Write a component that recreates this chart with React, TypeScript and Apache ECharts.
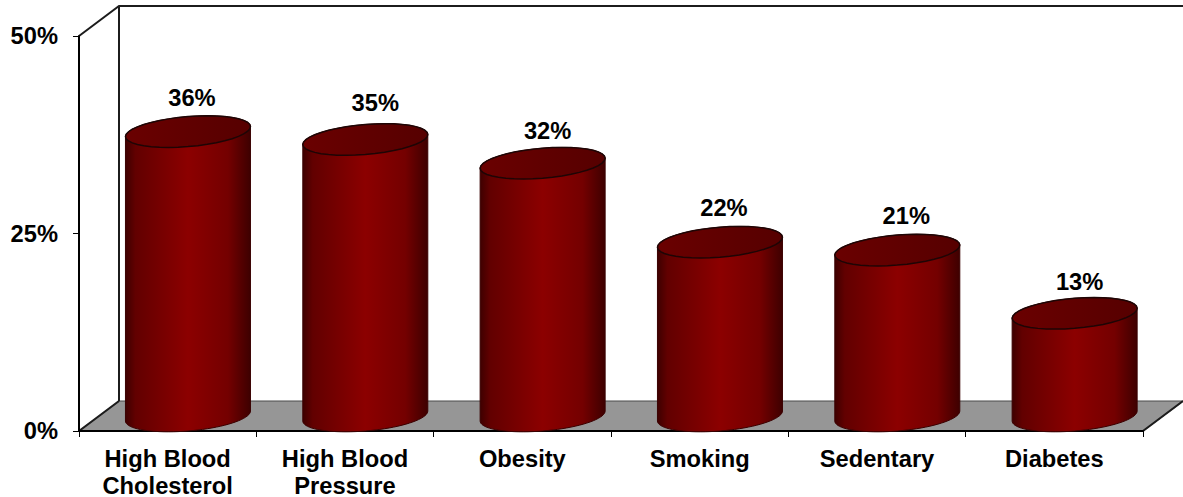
import React, { useEffect, useRef } from "react";
import * as echarts from "echarts";

const categories = ["High Blood\nCholesterol", "High Blood\nPressure", "Obesity", "Smoking", "Sedentary", "Diabetes"];
const shares = [36, 35, 32, 22, 21, 13];
const valueTicks = { min: 0, max: 50, interval: 25 };

const FONT = '"Liberation Sans", Arial, sans-serif';
const DEPTH_X = 40;
const DEPTH_Y = 30;
const RADIUS_X = 62.5;
const RADIUS_Y = 15;
const SHEAR = 5;
// Hand placement of the value labels relative to each cylinder's top.
const LABEL_NUDGE_X = [4, 10, 5, 4, 9, 5];
const LABEL_NUDGE_Y = [-34, -37, -32, -34, -34, -31];

// Half-turn of a sheared ellipse, from angle `from` to angle `to` in degrees.
function rim(cx: number, cy: number, from: number, to: number) {
  const pts: number[][] = [];
  const steps = 40;
  for (let i = 0; i <= steps; i++) {
    const t = ((from + ((to - from) * i) / steps) * Math.PI) / 180;
    pts.push([cx + RADIUS_X * Math.cos(t), cy - RADIUS_Y * Math.sin(t) - SHEAR * Math.cos(t)]);
  }
  return pts;
}

function renderShell(params: any) {
  const { x, y, width: w, height: h } = params.coordSys;
  const bx = x + DEPTH_X;
  const by = y - DEPTH_Y;
  const wall = { stroke: "#1c1c1c", lineWidth: 2, fill: "none" };
  return {
    type: "group",
    silent: true,
    children: [
      {
        type: "polygon",
        shape: { points: [[x, y + h], [bx, by + h], [bx + w, by + h], [x + w, y + h]] },
        style: { fill: "#969696", stroke: "#4a4a4a", lineWidth: 1.2 },
      },
      { type: "polyline", shape: { points: [[x, y], [bx, by], [bx + w, by]] }, style: wall },
      { type: "line", shape: { x1: bx, y1: by, x2: bx, y2: by + h }, style: wall },
      { type: "line", shape: { x1: x, y1: y + h, x2: bx, y2: by + h }, style: wall },
      { type: "line", shape: { x1: x + w, y1: y + h, x2: bx + w, y2: by + h }, style: wall },
    ],
  };
}

function renderCylinder(params: any, api: any) {
  const top = api.coord([api.value(0), api.value(1)]);
  const base = api.coord([api.value(0), 0]);
  const cx = top[0] + DEPTH_X / 2 + 0.3;
  const topY = top[1] - DEPTH_Y / 2;
  const baseY = base[1] - DEPTH_Y / 2;
  const body = [...rim(cx, topY, 0, 180), ...rim(cx, baseY, 180, 360)];
  const topRim = rim(cx, topY, 0, 360);
  const side = new echarts.graphic.LinearGradient(0, 0, 1, 0, [
    { offset: 0, color: "#3e0000" },
    { offset: 0.08, color: "#620000" },
    { offset: 0.5, color: "#8c0000" },
    { offset: 0.82, color: "#740000" },
    { offset: 1, color: "#3e0000" },
  ]);
  const lid = new echarts.graphic.LinearGradient(0, 0, 1, 0, [
    { offset: 0, color: "#6a0000" },
    { offset: 0.5, color: "#600000" },
    { offset: 1, color: "#560000" },
  ]);
  return {
    type: "group",
    children: [
      { type: "polygon", shape: { points: body }, style: { fill: side, stroke: "#3a0000", lineWidth: 1 } },
      { type: "polygon", shape: { points: topRim }, style: { fill: lid, stroke: "#1e0505", lineWidth: 1.5 } },
      {
        type: "text",
        style: {
          x: cx + LABEL_NUDGE_X[params.dataIndex],
          y: topY + LABEL_NUDGE_Y[params.dataIndex],
          text: `${api.value(1)}%`,
          font: `bold 23.7px ${FONT}`,
          fill: "#000",
          align: "center",
          verticalAlign: "middle",
        },
      },
    ],
  };
}

export default function App() {
  const ref = useRef<HTMLDivElement>(null);
  useEffect(() => {
    document.body.style.margin = "0";
    const chart = echarts.init(ref.current!, undefined, { renderer: "svg" });
    chart.setOption({
      animation: false,
      backgroundColor: "#fff",
      grid: { left: 79, right: 40, top: 36, bottom: 66, containLabel: false, outerBoundsMode: "none" },
      xAxis: {
        type: "category",
        data: categories,
        axisLine: { lineStyle: { color: "#000", width: 2 } },
        axisTick: { show: true, length: 6, lineStyle: { color: "#000", width: 1 } },
        axisLabel: { interval: 0, color: "#000", fontFamily: FONT, fontWeight: "bold", fontSize: 23.7, lineHeight: 27, margin: 14 },
      },
      yAxis: {
        type: "value",
        ...valueTicks,
        splitLine: { show: false },
        axisLine: { show: true, lineStyle: { color: "#000", width: 2 } },
        axisTick: { show: true, length: 6, lineStyle: { color: "#000", width: 1 } },
        axisLabel: { formatter: "{value}%", color: "#000", fontFamily: FONT, fontWeight: "bold", fontSize: 23.7, margin: 21 },
      },
      series: [
        { type: "custom", z: -1, clip: false, silent: true, renderItem: renderShell, data: [[0, 0]], encode: { x: 0, y: 1 } },
        {
          type: "custom",
          z: 2,
          clip: false,
          renderItem: renderCylinder,
          data: shares.map((v, i) => [i, v]),
          encode: { x: 0, y: 1 },
        },
      ],
    });
    return () => chart.dispose();
  }, []);
  return <div ref={ref} style={{ width: 1183, height: 497 }} />;
}
